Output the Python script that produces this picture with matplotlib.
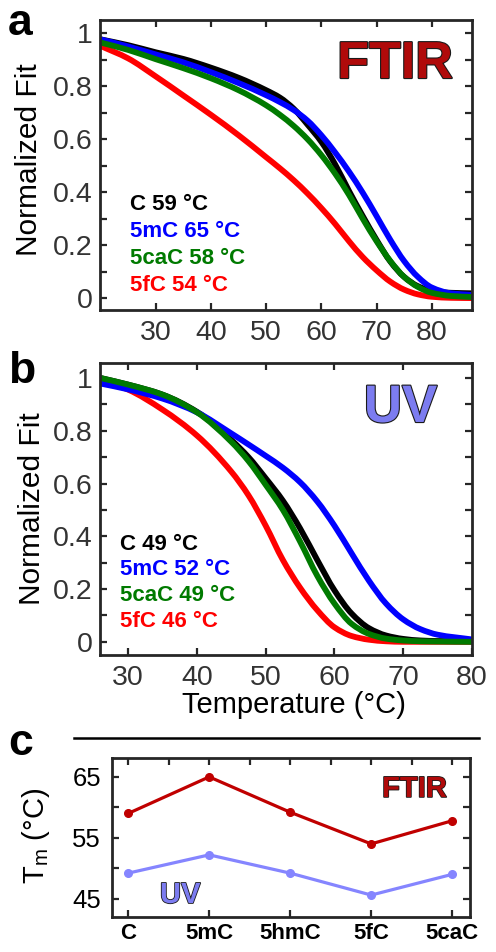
import matplotlib
matplotlib.use("Agg")
import numpy as np
import matplotlib.pyplot as plt
import matplotlib.patheffects as pe
from matplotlib.ticker import FixedLocator
from matplotlib.lines import Line2D
from matplotlib.path import Path
from matplotlib.patches import PathPatch

plt.rcParams['font.family'] = ['Liberation Sans', 'DejaVu Sans']

# ---------------- data ----------------
# Panel a (FTIR) normalized fits
temp_a = [20, 25, 30, 35, 40, 45, 50, 52.5, 55, 57.5, 60, 62.5, 65, 67.5, 70, 72.5, 75, 77.5, 80, 83.5, 87.3]
ftir_C = [0.977, 0.955, 0.928, 0.903, 0.870, 0.832, 0.785, 0.757, 0.715, 0.655, 0.590, 0.505, 0.405, 0.310, 0.220, 0.138, 0.080, 0.045, 0.027, 0.020, 0.018]
ftir_5mC = [0.977, 0.950, 0.920, 0.890, 0.853, 0.812, 0.766, 0.740, 0.710, 0.670, 0.615, 0.550, 0.478, 0.398, 0.310, 0.220, 0.140, 0.080, 0.040, 0.018, 0.012]
ftir_5caC = [0.965, 0.937, 0.902, 0.868, 0.830, 0.785, 0.728, 0.692, 0.650, 0.600, 0.540, 0.470, 0.390, 0.300, 0.215, 0.140, 0.080, 0.042, 0.020, 0.008, 0.004]
ftir_5fC = [0.952, 0.905, 0.837, 0.765, 0.692, 0.615, 0.532, 0.490, 0.445, 0.395, 0.340, 0.280, 0.215, 0.155, 0.105, 0.062, 0.032, 0.014, 0.005, 0.001, 0.000]

# Panel b (UV) normalized fits
temp_b = [26, 30, 35, 40, 45, 47.5, 50, 52.5, 55, 57.5, 60, 62.5, 65, 67.5, 70, 72.5, 75, 80]
uv_C = [1.000, 0.975, 0.937, 0.872, 0.765, 0.700, 0.620, 0.535, 0.430, 0.310, 0.195, 0.107, 0.052, 0.024, 0.011, 0.005, 0.003, 0.002]
uv_5mC = [0.979, 0.957, 0.922, 0.870, 0.790, 0.748, 0.705, 0.660, 0.605, 0.532, 0.440, 0.335, 0.232, 0.145, 0.085, 0.048, 0.027, 0.009]
uv_5caC = [1.000, 0.975, 0.937, 0.870, 0.758, 0.685, 0.595, 0.500, 0.380, 0.250, 0.145, 0.068, 0.030, 0.012, 0.005, 0.002, 0.001, 0.000]
uv_5fC = [0.994, 0.956, 0.880, 0.782, 0.645, 0.555, 0.440, 0.310, 0.205, 0.120, 0.055, 0.022, 0.008, 0.002, 0.000, 0.000, 0.000, 0.000]

legend_a = ["C 59 °C", "5mC 65 °C", "5caC 58 °C", "5fC 54 °C"]
legend_b = ["C 49 °C", "5mC 52 °C", "5caC 49 °C", "5fC 46 °C"]

# Panel c melting temperatures
bases = ["C", "5mC", "5hmC", "5fC", "5caC"]
tm_ftir = [59.0, 65.0, 59.2, 54.0, 57.8]
tm_uv = [49.2, 52.2, 49.2, 45.6, 49.0]

# ---------------- styling ----------------
col_C, col_5mC, col_5caC, col_5fC = '#000000', '#0000FF', '#007A00', '#FF0000'
col_ftir_title, col_uv_title = '#B00A0A', '#7C7CF0'
col_ftir_line, col_uv_line = '#C00000', '#8585FF'
axcol = '#262626'

W, H = 496, 952
fig = plt.figure(figsize=(W / 100, H / 100), dpi=100)


def fr(l, t, r, b):
    return [l / W, 1 - b / H, (r - l) / W, (b - t) / H]


ax_a = fig.add_axes(fr(100, 20, 472, 310))
ax_b = fig.add_axes(fr(100, 363, 472, 655))
ax_c = fig.add_axes(fr(112, 758, 470, 917))


def smooth_path(x, y):
    """Monotone cubic (Fritsch-Carlson) Bezier path through the given points."""
    x = np.asarray(x, float)
    y = np.asarray(y, float)
    h = np.diff(x)
    d = np.diff(y) / h
    n = len(x)
    m = np.zeros(n)
    m[0], m[-1] = d[0], d[-1]
    for i in range(1, n - 1):
        if d[i - 1] * d[i] <= 0:
            m[i] = 0.0
        else:
            w1 = 2 * h[i] + h[i - 1]
            w2 = h[i] + 2 * h[i - 1]
            m[i] = (w1 + w2) / (w1 / d[i - 1] + w2 / d[i])
    verts = [(x[0], y[0])]
    codes = [Path.MOVETO]
    for i in range(n - 1):
        verts += [(x[i] + h[i] / 3, y[i] + m[i] * h[i] / 3),
                  (x[i + 1] - h[i] / 3, y[i + 1] - m[i + 1] * h[i] / 3),
                  (x[i + 1], y[i + 1])]
        codes += [Path.CURVE4] * 3
    return Path(verts, codes)


def style_ax(ax, fs, pad_x, pad_y, labcol):
    for s in ax.spines.values():
        s.set_linewidth(2.0)
        s.set_color(axcol)
    ax.tick_params(which='both', direction='in', top=True, right=True,
                   length=5, width=1.6, color=axcol, labelsize=fs, labelcolor=labcol)
    ax.tick_params(axis='x', which='both', pad=pad_x)
    ax.tick_params(axis='y', which='both', pad=pad_y)


lw = 4.2
for ax, T, series, xlim, ylim in [
        (ax_a, temp_a, [ftir_5fC, ftir_C, ftir_5mC, ftir_5caC], (19.9, 87.3), (-0.045, 1.05)),
        (ax_b, temp_b, [uv_5fC, uv_C, uv_5mC, uv_5caC], (25.9, 80.0), (-0.05, 1.057))]:
    cols = [col_5fC, col_C, col_5mC, col_5caC]
    for k, (s, c) in enumerate(zip(series, cols)):
        ax.add_patch(PathPatch(smooth_path(T, s), facecolor='none', edgecolor=c,
                               lw=lw, capstyle='butt', joinstyle='round', zorder=2 + k * 0.1))
    ax.set_xlim(*xlim)
    ax.set_ylim(*ylim)
    ax.xaxis.set_major_locator(FixedLocator([30, 40, 50, 60, 70, 80]))
    ax.yaxis.set_major_locator(FixedLocator([0, 0.2, 0.4, 0.6, 0.8, 1.0]))
    ax.yaxis.set_minor_locator(FixedLocator([0.1, 0.3, 0.5, 0.7, 0.9]))
    ax.set_yticklabels(['0', '0.2', '0.4', '0.6', '0.8', '1'])
    style_ax(ax, 20.5, 7, 5.5, '#333333')
    ax.set_ylabel('Normalized Fit', fontsize=21.5, color='#000000')

ax_a.yaxis.set_label_coords(-0.153, 0.517)
ax_b.yaxis.set_label_coords(-0.145, 0.5)
ax_b.set_xlabel('Temperature (°C)', fontsize=21, color='#000000')
ax_b.xaxis.set_label_coords(0.52, -0.123)

# legends as coloured text
leg_cols = [col_C, col_5mC, col_5caC, col_5fC]
for txt, c, y in zip(legend_a, leg_cols, [0.346, 0.252, 0.159, 0.065]):
    ax_a.text(0.081, y, txt, transform=ax_a.transAxes, color=c, fontsize=16,
              fontweight='bold', va='baseline', ha='left')
for txt, c, y in zip(legend_b, leg_cols, [0.3596, 0.274, 0.185, 0.096]):
    ax_b.text(0.054, y, txt, transform=ax_b.transAxes, color=c, fontsize=16,
              fontweight='bold', va='baseline', ha='left')

outline = [pe.withStroke(linewidth=1.6, foreground='#1a1a1a')]
ax_a.text(0.949, 0.80, 'FTIR', transform=ax_a.transAxes, color=col_ftir_title,
          fontsize=37.5, fontweight='bold', ha='right', va='baseline', path_effects=outline)
ax_b.text(0.906, 0.798, 'UV', transform=ax_b.transAxes, color=col_uv_title,
          fontsize=38, fontweight='bold', ha='right', va='baseline', path_effects=outline)

# ---------------- panel c ----------------
xs = list(range(len(bases)))
ax_c.plot(xs, tm_ftir, color=col_ftir_line, lw=2.3, marker='o', ms=5.5)
ax_c.plot(xs, tm_uv, color=col_uv_line, lw=2.3, marker='o', ms=5.5)
ax_c.set_xlim(-0.2, 4.22)
ax_c.set_ylim(42.0, 68.1)
ax_c.set_xticks(xs)
ax_c.set_xticklabels(bases, fontweight='bold', fontsize=16)
ax_c.xaxis.set_minor_locator(FixedLocator([0.5, 1.5, 2.5, 3.5]))
ax_c.yaxis.set_major_locator(FixedLocator([45, 55, 65]))
ax_c.yaxis.set_minor_locator(FixedLocator([50, 60]))
style_ax(ax_c, 18.5, 4.5, 8, '#000000')
ax_c.tick_params(axis='x', which='major', labelsize=16)
ax_c.tick_params(axis='x', which='minor', bottom=False, top=True)
ax_c.set_ylabel(r'T$_\mathregular{m}$ (°C)', fontsize=21, color='#000000')
ax_c.yaxis.set_label_coords(-0.168, 0.51)
ax_c.text(0.936, 0.755, 'FTIR', transform=ax_c.transAxes, color=col_ftir_title,
          fontsize=21, fontweight='bold', ha='right', va='baseline',
          path_effects=[pe.withStroke(linewidth=1.2, foreground='#1a1a1a')])
ax_c.text(0.134, 0.088, 'UV', transform=ax_c.transAxes, color=col_uv_title,
          fontsize=21, fontweight='bold', ha='left', va='baseline',
          path_effects=[pe.withStroke(linewidth=1.2, foreground='#1a1a1a')])

# separator line
fig.add_artist(Line2D([74 / W, 479 / W], [1 - 738 / H, 1 - 738 / H],
                      transform=fig.transFigure, color='#000000', lw=1.8))

# panel letters
for lab, yb in [('a', 35), ('b', 383), ('c', 755)]:
    fig.text(8 / W, 1 - yb / H, lab, fontsize=32, fontweight='bold',
             ha='left', va='baseline', color='#000000')

fig.savefig('out.png', dpi=100)
